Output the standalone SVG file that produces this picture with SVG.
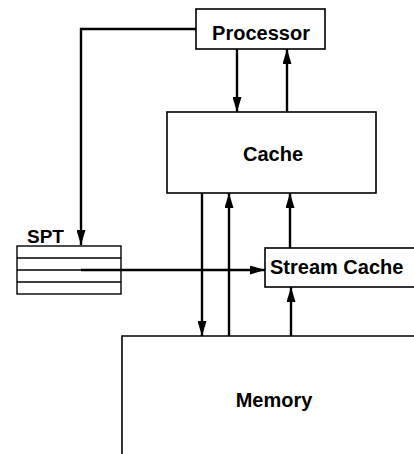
<svg xmlns="http://www.w3.org/2000/svg" width="414" height="454" viewBox="0 0 414 454">
<style>
.box{fill:#fff;stroke:#000;stroke-width:1.6}
.t{font-family:"Liberation Sans",Arial,sans-serif;font-weight:bold;font-size:20px;fill:#000}
.c{fill:none;stroke:#000;stroke-width:2.4}
.thin{fill:none;stroke:#000;stroke-width:1.4}
</style>
<defs>
<marker id="ah" markerWidth="15" markerHeight="9" refX="15" refY="4.5" orient="auto" markerUnits="userSpaceOnUse">
<path d="M0,0 L15,4.5 L0,9 Z" fill="#000"/>
</marker>
</defs>
<rect width="414" height="454" fill="#fff"/>
<g id="connectors">
<path class="c" d="M196,29 H81 V245" marker-end="url(#ah)"/>
<path class="c" d="M237,49 V112" marker-end="url(#ah)"/>
<path class="c" d="M287,112 V49" marker-end="url(#ah)"/>
<path class="c" d="M202,193 V336" marker-end="url(#ah)"/>
<path class="c" d="M229,336 V193" marker-end="url(#ah)"/>
<path class="c" d="M290,248 V193" marker-end="url(#ah)"/>
<path class="c" d="M291,336 V287" marker-end="url(#ah)"/>
<path class="c" d="M81,270 H265" marker-end="url(#ah)"/>
</g>
<g id="processor">
<rect class="box" x="196" y="9" width="129" height="40"/>
<text class="t" x="261" y="39.5" text-anchor="middle">Processor</text>
</g>
<g id="cache">
<rect class="box" x="167" y="112" width="209" height="81"/>
<text class="t" x="273" y="161" text-anchor="middle">Cache</text>
</g>
<g id="spt">
<text class="t" x="27" y="243" style="font-size:19px">SPT</text>
<rect class="thin" x="17" y="246" width="104" height="48"/>
<path class="thin" d="M17,258 H121 M17,270 H121 M17,282 H121"/>
</g>
<g id="stream-cache">
<rect class="box" x="265" y="248" width="160" height="39"/>
<text class="t" x="270" y="274">Stream Cache</text>
</g>
<g id="memory">
<path class="box" d="M122,460 V336 H420"/>
<text class="t" x="274" y="407" text-anchor="middle">Memory</text>
</g>
</svg>
